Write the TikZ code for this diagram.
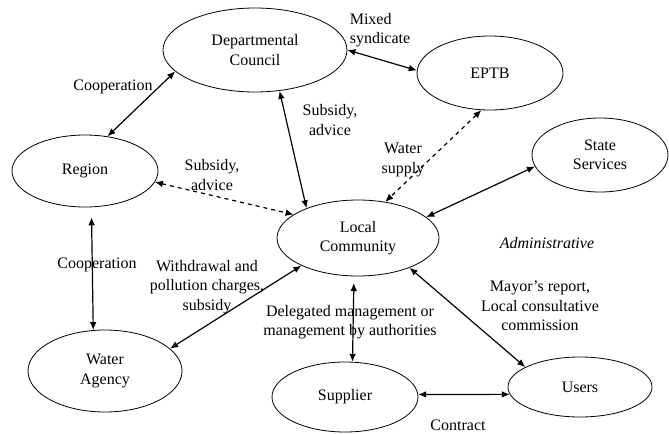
\documentclass[tikz,border=0pt]{standalone}
\usepackage{fontspec}
\setmainfont{Liberation Serif}
\usetikzlibrary{shapes.geometric}
\usetikzlibrary{arrows.meta}

\begin{document}
\begin{tikzpicture}[x=0.75pt,y=-0.75pt,
  actor/.style={ellipse,draw,line width=0.6pt,inner sep=0pt,align=center},
  link/.style={{Latex[length=6pt,width=5pt]}-{Latex[length=6pt,width=5pt]},line width=0.9pt},
  txt/.style={align=center,inner sep=0pt}]
\def\u{0.75pt}
\useasboundingbox (0,0) rectangle (669,433);
\fontsize{12}{14.5}\selectfont
\node[actor,minimum width=184*\u,minimum height=84*\u] (dc) at (255,50) {Departmental\\Council};
\node[actor,minimum width=146*\u,minimum height=74*\u] (eptb) at (490,73) {EPTB};
\node[actor,minimum width=146*\u,minimum height=72*\u] (reg) at (85,171) {Region};
\node[actor,minimum width=136*\u,minimum height=74*\u] (state) at (600,155) {State\\Services};
\node[actor,minimum width=162*\u,minimum height=76*\u] (lc) at (358,238) {Local\\Community};
\node[actor,minimum width=154*\u,minimum height=82*\u] (wa) at (105,371) {Water\\Agency};
\node[actor,minimum width=146*\u,minimum height=70*\u] (sup) at (345,397) {Supplier};
\node[actor,minimum width=144*\u,minimum height=60*\u] (users) at (580,387) {Users};

\draw[link] (reg.57) -- (dc.195);
\draw[link] (dc.-59) -- (lc.150);
\draw[link] (dc.0) -- (eptb.178);
\draw[link,dashed] (eptb.257) -- (lc.53);
\draw[link] (state.190) -- (lc.17);
\draw[link,dashed] (reg.-9) -- (lc.160);
\draw[link,shorten <=7.5pt] (reg.-80) -- (wa.106);
\draw[link] (wa.19) -- (lc.206);
\draw[link,shorten <=5pt] (lc.-96) -- (sup.78);
\draw[link] (lc.-30) -- (users.160);
\draw[link] (sup.2) -- (users.186);

\node[txt] (l1) at (113,87) {Cooperation};
\node[txt,align=left] (l2) at (380,30) {Mixed\\syndicate};
\node[txt] (l3) at (330,120) {Subsidy,\\advice};
\node[txt] (l4) at (212,175) {Subsidy,\\advice};
\node[txt] (l5) at (403,160) {Water\\supply};
\node[txt] (l6) at (97,265) {Cooperation};
\node[txt] (l7) at (207,287) {Withdrawal and\\pollution charges,\\subsidy};
\node[txt] (l8) at (350,322) {Delegated management or\\management by authorities};
\node[txt] (l9) at (547,243) {\itshape Administrative};
\node[txt] (l10) at (540,306) {Mayor’s report,\\Local consultative\\commission};
\node[txt] (l11) at (458,425) {Contract};
\end{tikzpicture}
\end{document}
